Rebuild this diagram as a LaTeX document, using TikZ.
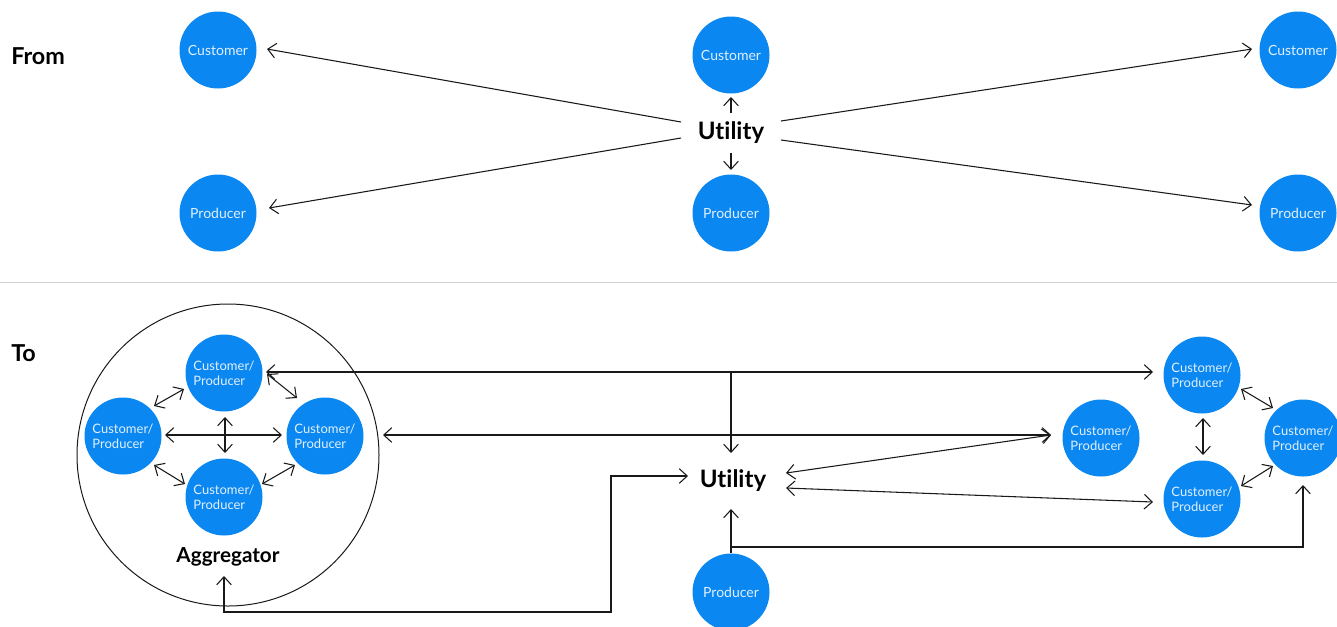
\documentclass[tikz,border=0pt]{standalone}
\usepackage{fontspec}
\setmainfont{Lato}[Ligatures=NoCommon]
\usetikzlibrary{arrows.meta}
\definecolor{nodeblue}{RGB}{10,135,240}
\definecolor{nodetext}{RGB}{225,240,255}
\definecolor{sepgray}{RGB}{210,210,210}
\definecolor{linecol}{RGB}{25,25,25}
\begin{document}
\begin{tikzpicture}[x=0.75pt,y=-0.75pt,
  ent/.style={circle, fill=nodeblue, draw=none, minimum size=57.75pt, inner sep=0pt,
    text=nodetext, font=\fontsize{10.5}{12}\selectfont, align=center},
  cp/.style={ent, align=left, font=\fontsize{9.75}{11.25}\selectfont},
  lbl/.style={font=\bfseries\fontsize{17.5}{21}\selectfont, text=black, inner sep=0pt},
  util/.style={font=\bfseries\fontsize{18}{22}\selectfont, text=black, inner sep=0pt},
  agl/.style={font=\bfseries\fontsize{15.5}{18}\selectfont, text=black, inner sep=0pt},
  conn/.style={draw=linecol, line width=0.8pt, -{Straight Barb[length=6pt,width=11pt]}},
  bi/.style={draw=linecol, line width=0.8pt, {Straight Barb[length=6pt,width=11pt]}-{Straight Barb[length=6pt,width=11pt]}},
  sep/.style={draw=sepgray, line width=0.75pt}
]
\useasboundingbox (0,0) rectangle (1337,626);

% ---------- From ----------
\node[lbl, anchor=west] (from) at (11,56) {From};
\node[ent] (C1) at (218,50) {Customer};
\node[ent] (P1) at (218,213) {Producer};
\node[ent] (C2) at (731,55) {Customer};
\node[ent] (P2) at (731,213) {Producer};
\node[ent] (C3) at (1298,50) {Customer};
\node[ent] (P3) at (1298,213) {Producer};
\node[util] (U1) at (731,133) {Utility};

\draw[conn] ([shift={(-50,-11)}]U1.center) -- ([shift={(49,-1)}]C1.center);
\draw[conn] ([shift={(-50,5)}]U1.center) -- ([shift={(51,-5)}]P1.center);
\draw[conn] ([shift={(50,-12)}]U1.center) -- ([shift={(-46,-1)}]C3.center);
\draw[conn] ([shift={(50,7)}]U1.center) -- ([shift={(-46,-8)}]P3.center);
\draw[conn] ([shift={(0,-20)}]U1.center) -- ([shift={(0,42)}]C2.center);
\draw[conn] ([shift={(0,20)}]U1.center) -- ([shift={(0,-43)}]P2.center);

% separator
\coordinate (s1) at (0,282);
\coordinate (s2) at (1337,282);
\draw[sep] (s1) -- (s2);

% ---------- To ----------
\node[lbl, anchor=west] (to) at (11,353) {To};
\node[circle, draw=linecol, line width=0.75pt, minimum size=226.5pt, inner sep=0pt] (AG) at (228,455) {};
\node[agl] (AGL) at (228,557) {Aggregator};
\node[cp] (A1) at (224,373) {Customer/\\Producer};
\node[cp] (A2) at (123,436) {Customer/\\Producer};
\node[cp] (A3) at (325,436) {Customer/\\Producer};
\node[cp] (A4) at (224,497) {Customer/\\Producer};

\node[util] (U2) at (733,481) {Utility};
\node[ent] (PB) at (731,592) {Producer};

\node[cp] (M) at (1101,438) {Customer/\\Producer};
\node[cp] (R1) at (1202,375) {Customer/\\Producer};
\node[cp] (R2) at (1202,499) {Customer/\\Producer};
\node[cp] (R3) at (1303,438) {Customer/\\Producer};

% aggregator inner links
\draw[bi] ([shift={(31,-30)}]A2.center) -- ([shift={(-40,16)}]A1.center);
\draw[bi] ([shift={(43,1)}]A1.center) -- ([shift={(-28,-38)}]A3.center);
\draw[bi] ([shift={(42,-1)}]A2.center) -- ([shift={(-43,-1)}]A3.center);
\draw[bi] ([shift={(1,44)}]A1.center) -- ([shift={(1,-44)}]A4.center);
\draw[bi] ([shift={(31,29)}]A2.center) -- ([shift={(-39,-13)}]A4.center);
\draw[bi] ([shift={(38,-13)}]A4.center) -- ([shift={(-30,29)}]A3.center);

% right cluster links
\draw[bi] ([shift={(1,43)}]R1.center) -- ([shift={(1,-44)}]R2.center);
\draw[bi] ([shift={(39,14)}]R1.center) -- ([shift={(-30,-30)}]R3.center);
\draw[bi] ([shift={(39,-13)}]R2.center) -- ([shift={(-30,28)}]R3.center);

% long links
\draw[bi] ([shift={(42,-1)}]A1.center) -- ([shift={(-49,-3)}]R1.center);
\coordinate (j1) at (731,372);
\draw[conn] (j1) -- ([shift={(-2,-28)}]U2.center);
\draw[bi] ([shift={(155,-20)}]AG.center) -- ([shift={(-50,-3)}]M.center);
\draw[bi] ([shift={(53,-8)}]U2.center) -- ([shift={(-50,-3)}]M.center);
\draw[bi] ([shift={(53,7)}]U2.center) -- ([shift={(-49,3)}]R2.center);
\coordinate (k1) at (611,612);
\draw[bi] ([shift={(-4,19)}]AGL.center) |- (k1) |- ([shift={(-45,-5)}]U2.center);
\draw[conn] ([shift={(0,-39)}]PB.center) -- ([shift={(-2,28)}]U2.center);
\coordinate (k2) at (731,547);
\draw[conn] (k2) -| ([shift={(0,47)}]R3.center);
\end{tikzpicture}
\end{document}
